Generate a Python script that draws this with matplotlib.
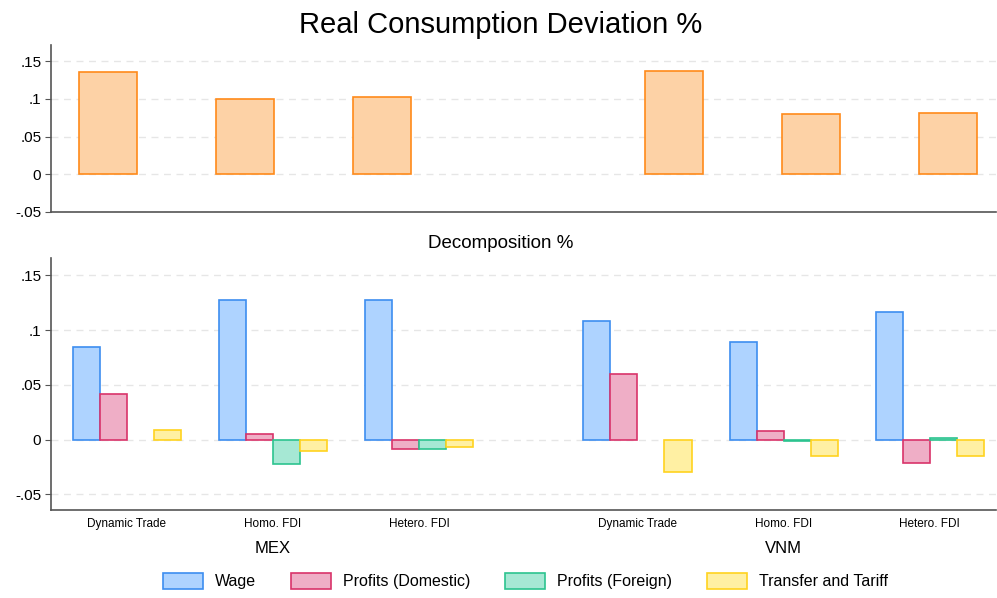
import matplotlib
matplotlib.use('Agg')
import matplotlib.pyplot as plt
import numpy as np
from matplotlib.patches import Patch

plt.rcParams['font.family'] = ['Liberation Sans', 'DejaVu Sans']

# Data
countries = ['MEX', 'VNM']
scenarios = ['Dynamic Trade', 'Homo. FDI', 'Hetero. FDI']
real_consumption = [0.1356, 0.0996, 0.1020, 0.1370, 0.0800, 0.0813]

components = ['Wage', 'Profits (Domestic)', 'Profits (Foreign)', 'Transfer and Tariff']
wage = [0.0849, 0.1276, 0.1276, 0.1080, 0.0888, 0.1163]
profits_domestic = [0.0418, 0.0052, -0.0085, 0.0595, 0.0077, -0.0213]
profits_foreign = [0.0, -0.0222, -0.0085, 0.0, -0.0010, 0.0018]
transfer_tariff = [0.0086, -0.0104, -0.0067, -0.0296, -0.0152, -0.0152]

yticks = [-0.05, 0, 0.05, 0.1, 0.15]
ytick_labels = ['-.05', '0', '.05', '.1', '.15']

face_colors = ['#aed3ff', '#efaec6', '#a6e8d4', '#fff0a3']
edge_colors = ['#3d8ef0', '#d9336a', '#2cc38f', '#ffd31f']
orange_face = '#fdd2a6'
orange_edge = '#ff8a1a'
axis_color = '#555555'


def style_axis(ax, ylim):
    ax.set_ylim(*ylim)
    ax.set_yticks(yticks)
    ax.set_yticklabels(ytick_labels, fontsize=11)
    ax.yaxis.grid(True, color='#e6e6e6', linestyle=(0, (5, 4)), linewidth=1)
    ax.set_axisbelow(True)
    ax.spines['top'].set_visible(False)
    ax.spines['right'].set_visible(False)
    ax.spines['left'].set_color(axis_color)
    ax.spines['bottom'].set_color(axis_color)
    ax.spines['left'].set_linewidth(1.2)
    ax.spines['bottom'].set_linewidth(1.2)
    ax.tick_params(axis='y', length=4, color=axis_color, pad=3)


def positions(n_groups, n_countries, gap):
    # gap = distance from last group of one country to first group of the next
    return np.array([i + c * (n_groups - 1 + gap)
                     for c in range(n_countries) for i in range(n_groups)])


fig = plt.figure(figsize=(9.97, 5.98), dpi=100)
fig.patch.set_facecolor('white')
n = len(scenarios)

# Top panel: total real consumption deviation
ax1 = fig.add_axes([0.0512, 0.646, 0.948, 0.279])
top_x = positions(n, len(countries), 2.135)
ax1.bar(top_x, real_consumption, width=0.423, color=orange_face,
        edgecolor=orange_edge, linewidth=1.2)
ax1.set_xlim(-0.416, top_x[-1] + 0.35)
ax1.set_xticks([])
style_axis(ax1, (-0.05, 0.172))
fig.text(0.502, 0.958, 'Real Consumption Deviation %', fontsize=21,
         ha='center', va='center')

# Bottom panel: decomposition
ax2 = fig.add_axes([0.0512, 0.1472, 0.948, 0.4214])
centers = positions(n, len(countries), 1.495)
bw = 0.185
series = [wage, profits_domestic, profits_foreign, transfer_tariff]
for k, vals in enumerate(series):
    vals = np.array(vals, dtype=float)
    vals[vals == 0] = np.nan  # empty cells are not drawn
    ax2.bar(centers + (k - 1.5) * bw, vals, width=bw, color=face_colors[k],
            edgecolor=edge_colors[k], linewidth=1.2, label=components[k])
ax2.set_xlim(-0.518, centers[-1] + 0.455)
ax2.set_xticks(centers)
ax2.set_xticklabels(scenarios * len(countries), fontsize=8.5)
ax2.tick_params(axis='x', length=0, pad=6)
style_axis(ax2, (-0.0644, 0.166))
fig.text(0.502, 0.593, 'Decomposition %', fontsize=13.5, ha='center', va='center')

# Country labels under the middle scenario of each group
for c, name in enumerate(countries):
    xc = centers[c * n + 1]
    fx = fig.transFigure.inverted().transform(ax2.transData.transform((xc, 0)))[0]
    fig.text(fx, 0.083, name, fontsize=12, ha='center', va='center')

handles = [Patch(facecolor=face_colors[k], edgecolor=edge_colors[k], linewidth=1.2,
                 label=components[k]) for k in range(len(components))]
fig.legend(handles=handles, loc='center', bbox_to_anchor=(0.527, 0.028), ncol=4,
           frameon=False, fontsize=11.5, handlelength=2.5, handleheight=1.1,
           columnspacing=2.2, handletextpad=0.75)

fig.savefig('out.png', dpi=100, facecolor='white')
